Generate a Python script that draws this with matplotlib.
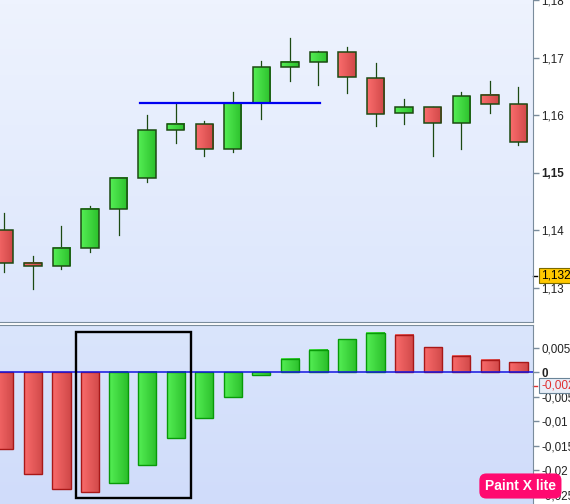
import matplotlib
matplotlib.use('Agg')
import matplotlib.pyplot as plt
import numpy as np
from matplotlib.colors import LinearSegmentedColormap
from matplotlib.patches import Rectangle

plt.rcParams['font.family'] = ['Liberation Sans', 'DejaVu Sans']

# candles
opens  = [1.1400, 1.1344, 1.1338, 1.1370, 1.1437, 1.1491, 1.1574, 1.1585, 1.1542, 1.1622,
          1.1683, 1.1692, 1.1709, 1.1664, 1.1604, 1.1614, 1.1587, 1.1635, 1.1619]
highs  = [1.1430, 1.1355, 1.1407, 1.1443, 1.1491, 1.1601, 1.1621, 1.1590, 1.1641, 1.1694,
          1.1734, 1.1712, 1.1719, 1.1691, 1.1629, 1.1614, 1.1641, 1.1660, 1.1649]
lows   = [1.1328, 1.1299, 1.1333, 1.1363, 1.1392, 1.1484, 1.1551, 1.1529, 1.1536, 1.1593,
          1.1660, 1.1652, 1.1639, 1.1582, 1.1584, 1.1529, 1.1541, 1.1603, 1.1548]
closes = [1.1344, 1.1338, 1.1370, 1.1438, 1.1491, 1.1574, 1.1585, 1.1542, 1.1621, 1.1683,
          1.1692, 1.1709, 1.1666, 1.1602, 1.1614, 1.1587, 1.1633, 1.1619, 1.1554]

# lower indicator histogram
hist = [-0.0157, -0.0207, -0.0238, -0.0244, -0.0227, -0.0190, -0.0135, -0.0093, -0.0050, -0.0006,
        0.0027, 0.0045, 0.0067, 0.0080, 0.0076, 0.0051, 0.0033, 0.0025, 0.0020]
hist_up = [False, False, False, False, True, True, True, True, True, True,
           True, True, True, True, False, False, False, False, False]

price_ticks = [1.13, 1.14, 1.15, 1.16, 1.17, 1.18]
price_labels = ['1,13', '1,14', '1,15', '1,16', '1,17', '1,18']
ind_ticks = [-0.025, -0.02, -0.015, -0.01, -0.005, 0, 0.005]
ind_labels = ['-0,025', '-0,02', '-0,015', '-0,01', '-0,005', '0', '0,005']

resist_level = 1.1622
resist_from, resist_to = 4.75, 11.05
last_price = 1.13215
last_ind = -0.0027

green_cm = LinearSegmentedColormap.from_list('g', ['#54EE54', '#2CC02C'])
red_cm = LinearSegmentedColormap.from_list('r', ['#FA6C6C', '#D04848'])
grad = np.linspace(0, 1, 32).reshape(1, -1)

fig = plt.figure(figsize=(5.7, 5.04), dpi=100)
fig.patch.set_facecolor('white')
ax1 = fig.add_axes([0, 0.361, 0.935, 0.639])
ax2 = fig.add_axes([0, 0, 0.935, 0.3546])

spine_c = '#7A8C9C'
for ax in (ax1, ax2):
    for s in ('left', 'top', 'bottom', 'right'):
        ax.spines[s].set_visible(False)
    ax.spines['right'].set_visible(True)
    ax.spines['right'].set_color(spine_c)
    ax.yaxis.tick_right()
    ax.set_xticks([])
    ax.tick_params(axis='y', labelcolor='#222222', length=4, width=1, pad=2,
                   labelsize=8.4, direction='out', color=spine_c)
ax1.spines['bottom'].set_visible(True)
ax1.spines['bottom'].set_color(spine_c)
ax2.spines['top'].set_visible(True)
ax2.spines['top'].set_color(spine_c)

bg1 = LinearSegmentedColormap.from_list('bg1', ['#EEF3FE', '#DCE6FC'])
bg2 = LinearSegmentedColormap.from_list('bg2', ['#DAE5FC', '#D0DCFA'])
vgrad = np.linspace(0, 1, 64).reshape(-1, 1)
ax1.imshow(vgrad, cmap=bg1, aspect='auto', extent=[0, 1, 0, 1],
           transform=ax1.transAxes, zorder=0, origin='upper')
ax2.imshow(vgrad, cmap=bg2, aspect='auto', extent=[0, 1, 0, 1],
           transform=ax2.transAxes, zorder=0, origin='upper')

w = 0.61
for i in range(len(opens)):
    o, h, l, c = opens[i], highs[i], lows[i], closes[i]
    lo, hi = min(o, c), max(o, c)
    cm = green_cm if c >= o else red_cm
    ax1.plot([i, i], [l, h], color='#1C4A12', lw=0.9, zorder=2)
    ax1.imshow(grad, cmap=cm, aspect='auto', extent=[i - w / 2, i + w / 2, lo, hi],
               zorder=3, interpolation='bilinear')
    ax1.add_patch(Rectangle((i - w / 2, lo), w, hi - lo, fill=False,
                            edgecolor='#1C4A12', lw=1.1, zorder=4))

ax1.plot([resist_from, resist_to], [resist_level, resist_level], color='#0000F0', lw=1.6, zorder=5)

ax1.set_xlim(-0.15, 18.51)
ax1.set_ylim(1.1241, 1.1798)
ax1.set_yticks(price_ticks)
ax1.set_yticklabels(price_labels)
ax1.get_yticklabels()[2].set_fontweight('bold')

# last price tag
ax1.annotate('1,13215', xy=(1.0, last_price), xycoords=('axes fraction', 'data'),
             xytext=(6, 0), textcoords='offset points', va='center', ha='left',
             fontsize=8.6, color='black', annotation_clip=False,
             bbox=dict(boxstyle='square,pad=0.15', fc='#FFC800', ec='#7A6A00', lw=0.8))
ax1.plot([1.0, 1.008], [last_price, last_price], transform=ax1.get_yaxis_transform(),
         color='black', lw=1, clip_on=False)

bw = 0.64
for i, v in enumerate(hist):
    cm = green_cm if hist_up[i] else red_cm
    ec = '#089A08' if hist_up[i] else '#A81818'
    lo, hi = min(0, v), max(0, v)
    ax2.imshow(grad, cmap=cm, aspect='auto', extent=[i - bw / 2, i + bw / 2, lo, hi],
               zorder=3, interpolation='bilinear')
    ax2.add_patch(Rectangle((i - bw / 2, lo), bw, hi - lo, fill=False,
                            edgecolor=ec, lw=1.0, zorder=4))
ax2.axhline(0, color='#1414E0', lw=1.1, zorder=5)

ax2.add_patch(Rectangle((2.51, -0.0256), 4.03, 0.0256 + 0.0082, fill=False,
                        edgecolor='black', lw=1.7, zorder=6))

ax2.set_xlim(-0.15, 18.51)
ax2.set_ylim(-0.0269, 0.0096)
ax2.set_yticks(ind_ticks)
ax2.set_yticklabels(ind_labels)
ax2.get_yticklabels()[5].set_fontweight('bold')

ax2.annotate('-0,0027', xy=(1.0, last_ind), xycoords=('axes fraction', 'data'),
             xytext=(6, 0), textcoords='offset points', va='center', ha='left',
             fontsize=8.6, color='#E03030', annotation_clip=False,
             bbox=dict(boxstyle='square,pad=0.15', fc='#E8EEF8', ec='#6A8498', lw=0.8))
ax2.plot([1.0, 1.008], [last_ind, last_ind], transform=ax2.get_yaxis_transform(),
         color='#E03030', lw=1, clip_on=False)

# watermark
fig.text(0.913, 0.0357, 'Paint X lite', ha='center', va='center', color='white',
         fontsize=10, fontweight='bold', zorder=10,
         bbox=dict(boxstyle='round,pad=0.4,rounding_size=0.5', fc='#FF0A70', ec='none'))

fig.savefig('out.png', dpi=100, facecolor='white')
